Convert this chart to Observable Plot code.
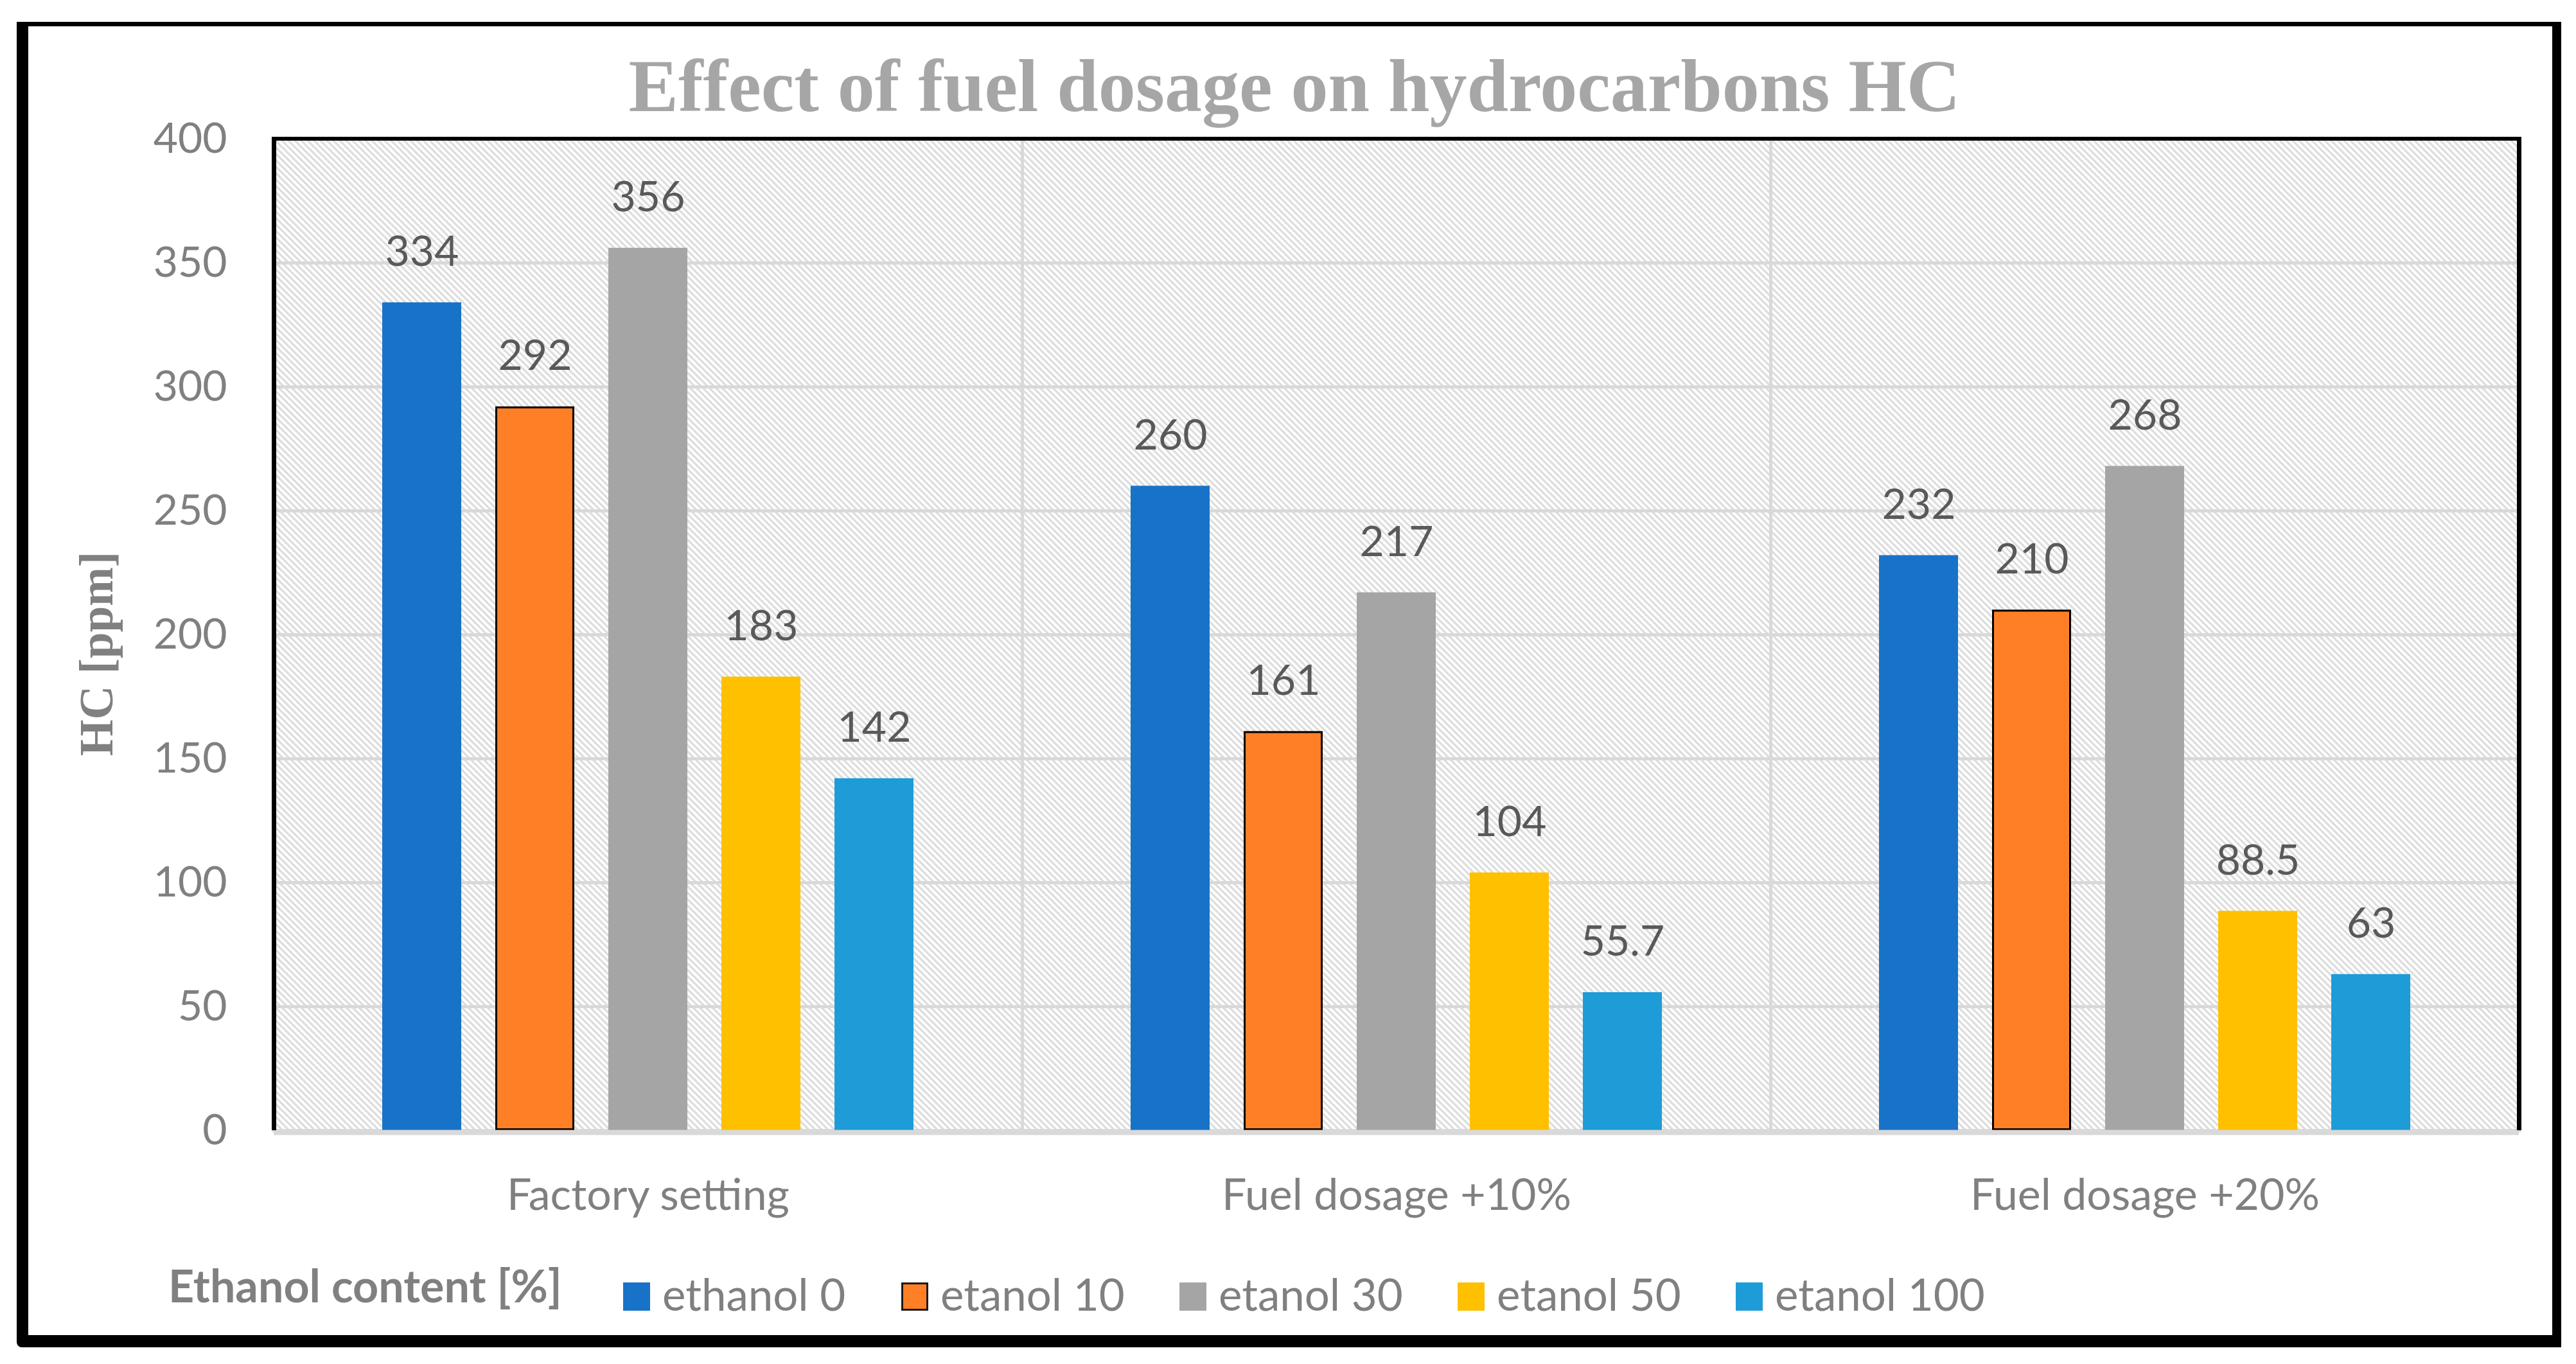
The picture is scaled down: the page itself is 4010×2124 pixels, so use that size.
<!DOCTYPE html>
<html>
<head>
<meta charset="utf-8">
<script src="https://cdn.jsdelivr.net/npm/d3@7"></script>
<script src="https://cdn.jsdelivr.net/npm/@observablehq/plot@0.6"></script>
<style>
  html, body { margin: 0; padding: 0; background: white; }
  body { position: relative; width: 4010px; height: 2124px; overflow: hidden; }
  #outer { position: absolute; left: 26px; top: 34px; width: 3961px; height: 2064px; box-sizing: border-box;
           border-style: solid; border-color: black; border-width: 7px 14px 19px 18px; border-bottom-left-radius: 8px; }
  #title { position: absolute; left: 0; width: 4030px; top: 76px; text-align: center; line-height: 1;
           font-family: "Liberation Serif", "Times New Roman", serif; font-weight: bold; font-size: 116px; color: #a6a6a6; white-space: nowrap; }
  #ylabel { position: absolute; left: 150px; top: 1018px; transform: translate(-50%, -50%) rotate(-90deg); line-height: 1;
            font-family: "Liberation Serif", "Times New Roman", serif; font-weight: bold; font-size: 73px; color: #808080; white-space: nowrap; }
  #chart { position: absolute; left: 0; top: 150px; }
  #chart g[aria-label="fx-axis tick label"] { font-size: 68px; }
  #chart g[aria-label="y-axis tick label"] { font-size: 66px; }
  #frameline { position: absolute; left: 423px; top: 213px; width: 3502px; height: 1547px; box-sizing: border-box;
               border-style: solid; border-color: black; border-width: 6px 7px 0 7px; pointer-events: none; }
  #legtitle { position: absolute; left: 262px; top: 1966px; line-height: 1; font-family: Lato, sans-serif; font-weight: bold;
              font-size: 70px; color: #808080; white-space: nowrap; }
  #legend { position: absolute; left: 970px; top: 1980px; line-height: 1; font-family: Lato, sans-serif; font-size: 69px;
            color: #808080; display: flex; white-space: nowrap; }
  .item { width: 433px; }
  .sw { display: inline-block; width: 42px; height: 44px; margin-right: 19px; vertical-align: baseline; box-sizing: border-box; }
</style>
</head>
<body>
<div id="outer"></div>
<div id="title">Effect of fuel dosage on hydrocarbons HC</div>
<div id="ylabel">HC [ppm]</div>
<div id="chart"></div>
<div id="frameline"></div>
<div id="legtitle">Ethanol content [%]</div>
<div id="legend"></div>
<script>
// ---- data ----
const categories = ["Factory setting", "Fuel dosage +10%", "Fuel dosage +20%"];
const series = ["ethanol 0", "etanol 10", "etanol 30", "etanol 50", "etanol 100"];
const ethanol0 = [334, 260, 232];
const etanol10 = [292, 161, 210];
const etanol30 = [356, 217, 268];
const etanol50 = [183, 104, 88.5];
const etanol100 = [142, 55.7, 63];
const colors = ["#1872c8", "#ff7f27", "#a5a5a5", "#ffc000", "#1e9cd8"];
const yTicks = [0, 50, 100, 150, 200, 250, 300, 350, 400];

const seriesValues = [ethanol0, etanol10, etanol30, etanol50, etanol100];
const data = [];
categories.forEach((c, ci) => {
  series.forEach((s, si) => data.push({category: c, series: s, value: seriesValues[si][ci]}));
});
const outlined = data.filter(d => d.series === "etanol 10");
const gridTicks = yTicks.filter(t => t > 0 && t < 400);

const chart = Plot.plot({
  width: 4010,
  height: 1800,
  marginLeft: 426,
  marginRight: 89,
  marginTop: 66,
  marginBottom: 190,
  style: {background: "none", fontFamily: "Lato, sans-serif", fontSize: "66px", color: "#808080"},
  fx: {domain: categories, padding: 0, label: null, tickSize: 0, tickPadding: 75, axis: "bottom"},
  x: {domain: series, paddingInner: 0.3, paddingOuter: 0.944, axis: null},
  y: {domain: [0, 400], ticks: yTicks, tickSize: 0, tickPadding: 73, label: null},
  color: {domain: series, range: colors},
  marks: [
    Plot.frame({fill: "url(#hatch)"}),
    Plot.frame({stroke: "#d9d9d9", strokeWidth: 5}),
    Plot.ruleY(gridTicks, {stroke: "#d9d9d9", strokeWidth: 5}),
    Plot.barY(data, {fx: "category", x: "series", y: "value", fill: "series", inset: 0}),
    Plot.barY(outlined, {fx: "category", x: "series", y: "value", fill: "none", stroke: "black", strokeWidth: 3, inset: 1.5}),
    Plot.text(data, {fx: "category", x: "series", y: "value", text: d => String(d.value), lineAnchor: "bottom", dy: -57,
                     fontSize: 66, fill: "#595959"}),
    Plot.ruleY([0], {stroke: "#d9d9d9", strokeWidth: 8, dy: 3})
  ]
});

// hatch pattern definition
const svg = d3.select(chart.tagName.toLowerCase() === "svg" ? chart : chart.querySelector("svg"));
const defs = svg.insert("defs", ":first-child");
const pat = defs.append("pattern").attr("id", "hatch").attr("width", 10).attr("height", 10).attr("patternUnits", "userSpaceOnUse");
pat.append("rect").attr("width", 10).attr("height", 10).attr("fill", "white");
pat.append("path").attr("d", "M0,0L10,10M-5,5L5,15M5,-5L15,5").attr("stroke", "#d9d9d9").attr("stroke-width", 3);

document.getElementById("chart").appendChild(chart);

// legend
const leg = document.getElementById("legend");
series.forEach((s, i) => {
  const item = document.createElement("div");
  item.className = "item";
  const sw = document.createElement("span");
  sw.className = "sw";
  sw.style.background = colors[i];
  if (s === "etanol 10") sw.style.border = "3px solid #1a1a1a";
  item.appendChild(sw);
  item.appendChild(document.createTextNode(s));
  leg.appendChild(item);
});
</script>
</body>
</html>
